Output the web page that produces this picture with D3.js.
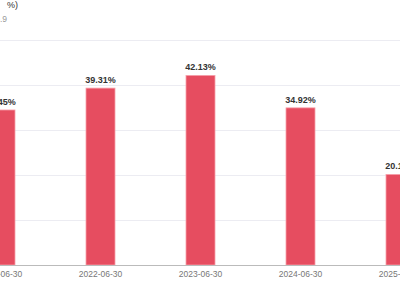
<!DOCTYPE html>
<html>
<head>
<meta charset="utf-8">
<script src="https://cdn.jsdelivr.net/npm/d3@7"></script>
<style>
  body { margin: 0; background: #fff; }
  svg { display: block; font-family: "Liberation Sans", Arial, sans-serif; }
</style>
</head>
<body>
<svg id="chart" width="400" height="300"></svg>
<script>
// values
const dates = ["2021-06-30", "2022-06-30", "2023-06-30", "2024-06-30", "2025-06-30"];
const values = [34.45, 39.31, 42.13, 34.92, 20.13];
const yticks = [0, 10, 20, 30, 40, 50];

const barcolor = "#e64d60";
const W = 400, H = 300;
const svg = d3.select("#chart");

// plot is wider than the window, so the outer bars get cut
const x = d3.scaleBand()
  .domain(dates)
  .range([-49.5, 450.5])
  .paddingInner(0.71)
  .paddingOuter(0.355);

const y = d3.scaleLinear()
  .domain([0, 50])
  .range([265, 40]);

// grid lines
svg.append("g")
  .selectAll("line")
  .data(yticks.slice(1))
  .join("line")
    .attr("x1", 0)
    .attr("x2", W)
    .attr("y1", d => Math.round(y(d)) + 0.5)
    .attr("y2", d => Math.round(y(d)) + 0.5)
    .attr("stroke", "#ececf2")
    .attr("stroke-width", 1);

// bars
svg.append("g")
  .selectAll("rect")
  .data(values)
  .join("rect")
    .attr("x", (d, i) => x(dates[i]))
    .attr("width", x.bandwidth())
    .attr("y", d => y(d))
    .attr("height", d => y(0) - y(d))
    .attr("fill", barcolor)
    .attr("stroke", "#f7a0aa")
    .attr("stroke-width", 0.8);

// value labels
svg.append("g")
  .selectAll("text")
  .data(values)
  .join("text")
    .attr("x", (d, i) => x(dates[i]) + x.bandwidth() / 2)
    .attr("y", d => y(d) - 5)
    .attr("text-anchor", "middle")
    .attr("font-size", 9)
    .attr("font-weight", "bold")
    .attr("fill", "#333")
    .text(d => d.toFixed(2) + "%");

// x axis
const xaxis = svg.append("g")
  .attr("transform", "translate(0," + y(0) + ")")
  .call(d3.axisBottom(x).tickSize(0).tickPadding(6));
xaxis.select(".domain")
  .attr("d", "M0,0.5H" + W)
  .attr("stroke", "#bbb");
xaxis.selectAll("text")
  .attr("font-size", 8.5)
  .attr("font-family", "Liberation Sans, Arial, sans-serif")
  .attr("fill", "#777");

// title bits, mostly off the left edge
const title = svg.append("text")
  .attr("y", 8)
  .attr("font-size", 9)
  .attr("fill", "#333");
title.append("tspan").attr("x", -1).attr("text-anchor", "end").text("单位(");
title.append("tspan").attr("x", 7).attr("text-anchor", "start").text("%)");

svg.append("text")
  .attr("x", 7)
  .attr("y", 22)
  .attr("text-anchor", "end")
  .attr("font-size", 8.5)
  .attr("fill", "#999")
  .text("2025.9");
</script>
</body>
</html>
